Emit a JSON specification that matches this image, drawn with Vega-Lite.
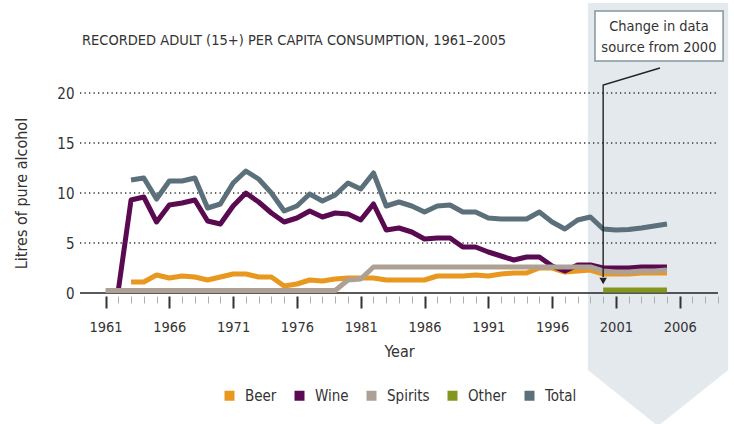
{
  "$schema": "https://vega.github.io/schema/vega-lite/v6.json",
  "autosize": "none",
  "width": 638,
  "height": 200,
  "padding": {"left": 80, "top": 93, "right": 16, "bottom": 131},
  "background": "white",
  "config": {
    "font": "DejaVu Sans Condensed, sans-serif",
    "view": {"stroke": null},
    "legend": {"layout": {"bottom": {"anchor": "middle"}}}
  },
  "title": {
    "text": "RECORDED ADULT (15+) PER CAPITA CONSUMPTION, 1961–2005",
    "anchor": "start",
    "frame": "group",
    "offset": -45,
    "dx": 2,
    "fontSize": 14.5,
    "fontWeight": "normal",
    "color": "#333333",
    "font": "DejaVu Sans Condensed, sans-serif"
  },
  "datasets": {
    "series": [
      {"year": 1963, "series": "Beer", "value": 1.1},
      {"year": 1964, "series": "Beer", "value": 1.1},
      {"year": 1965, "series": "Beer", "value": 1.8},
      {"year": 1966, "series": "Beer", "value": 1.5},
      {"year": 1967, "series": "Beer", "value": 1.7},
      {"year": 1968, "series": "Beer", "value": 1.6},
      {"year": 1969, "series": "Beer", "value": 1.3},
      {"year": 1970, "series": "Beer", "value": 1.6},
      {"year": 1971, "series": "Beer", "value": 1.9},
      {"year": 1972, "series": "Beer", "value": 1.9},
      {"year": 1973, "series": "Beer", "value": 1.6},
      {"year": 1974, "series": "Beer", "value": 1.6},
      {"year": 1975, "series": "Beer", "value": 0.7},
      {"year": 1976, "series": "Beer", "value": 0.9},
      {"year": 1977, "series": "Beer", "value": 1.3},
      {"year": 1978, "series": "Beer", "value": 1.2},
      {"year": 1979, "series": "Beer", "value": 1.4},
      {"year": 1980, "series": "Beer", "value": 1.5},
      {"year": 1981, "series": "Beer", "value": 1.5},
      {"year": 1982, "series": "Beer", "value": 1.5},
      {"year": 1983, "series": "Beer", "value": 1.3},
      {"year": 1984, "series": "Beer", "value": 1.3},
      {"year": 1985, "series": "Beer", "value": 1.3},
      {"year": 1986, "series": "Beer", "value": 1.3},
      {"year": 1987, "series": "Beer", "value": 1.7},
      {"year": 1988, "series": "Beer", "value": 1.7},
      {"year": 1989, "series": "Beer", "value": 1.7},
      {"year": 1990, "series": "Beer", "value": 1.8},
      {"year": 1991, "series": "Beer", "value": 1.7},
      {"year": 1992, "series": "Beer", "value": 1.9},
      {"year": 1993, "series": "Beer", "value": 2.0},
      {"year": 1994, "series": "Beer", "value": 2.0},
      {"year": 1995, "series": "Beer", "value": 2.5},
      {"year": 1996, "series": "Beer", "value": 2.5},
      {"year": 1997, "series": "Beer", "value": 2.1},
      {"year": 1998, "series": "Beer", "value": 2.2},
      {"year": 1999, "series": "Beer", "value": 2.3},
      {"year": 2000, "series": "Beer", "value": 1.9},
      {"year": 2001, "series": "Beer", "value": 1.9},
      {"year": 2002, "series": "Beer", "value": 1.9},
      {"year": 2003, "series": "Beer", "value": 2.0},
      {"year": 2004, "series": "Beer", "value": 2.0},
      {"year": 2005, "series": "Beer", "value": 2.0},
      {"year": 1962, "series": "Wine", "value": 0.25},
      {"year": 1963, "series": "Wine", "value": 9.3},
      {"year": 1964, "series": "Wine", "value": 9.6},
      {"year": 1965, "series": "Wine", "value": 7.1},
      {"year": 1966, "series": "Wine", "value": 8.8},
      {"year": 1967, "series": "Wine", "value": 9.0},
      {"year": 1968, "series": "Wine", "value": 9.3},
      {"year": 1969, "series": "Wine", "value": 7.2},
      {"year": 1970, "series": "Wine", "value": 6.9},
      {"year": 1971, "series": "Wine", "value": 8.7},
      {"year": 1972, "series": "Wine", "value": 10.0},
      {"year": 1973, "series": "Wine", "value": 9.1},
      {"year": 1974, "series": "Wine", "value": 8.0},
      {"year": 1975, "series": "Wine", "value": 7.1},
      {"year": 1976, "series": "Wine", "value": 7.5},
      {"year": 1977, "series": "Wine", "value": 8.2},
      {"year": 1978, "series": "Wine", "value": 7.6},
      {"year": 1979, "series": "Wine", "value": 8.0},
      {"year": 1980, "series": "Wine", "value": 7.9},
      {"year": 1981, "series": "Wine", "value": 7.3},
      {"year": 1982, "series": "Wine", "value": 8.9},
      {"year": 1983, "series": "Wine", "value": 6.3},
      {"year": 1984, "series": "Wine", "value": 6.5},
      {"year": 1985, "series": "Wine", "value": 6.1},
      {"year": 1986, "series": "Wine", "value": 5.4},
      {"year": 1987, "series": "Wine", "value": 5.5},
      {"year": 1988, "series": "Wine", "value": 5.5},
      {"year": 1989, "series": "Wine", "value": 4.6},
      {"year": 1990, "series": "Wine", "value": 4.6},
      {"year": 1991, "series": "Wine", "value": 4.1},
      {"year": 1992, "series": "Wine", "value": 3.7},
      {"year": 1993, "series": "Wine", "value": 3.3},
      {"year": 1994, "series": "Wine", "value": 3.6},
      {"year": 1995, "series": "Wine", "value": 3.6},
      {"year": 1996, "series": "Wine", "value": 2.7},
      {"year": 1997, "series": "Wine", "value": 2.2},
      {"year": 1998, "series": "Wine", "value": 2.8},
      {"year": 1999, "series": "Wine", "value": 2.8},
      {"year": 2000, "series": "Wine", "value": 2.5},
      {"year": 2001, "series": "Wine", "value": 2.5},
      {"year": 2002, "series": "Wine", "value": 2.5},
      {"year": 2003, "series": "Wine", "value": 2.6},
      {"year": 2004, "series": "Wine", "value": 2.6},
      {"year": 2005, "series": "Wine", "value": 2.6},
      {"year": 1961, "series": "Spirits", "value": 0.25},
      {"year": 1962, "series": "Spirits", "value": 0.25},
      {"year": 1963, "series": "Spirits", "value": 0.25},
      {"year": 1964, "series": "Spirits", "value": 0.25},
      {"year": 1965, "series": "Spirits", "value": 0.25},
      {"year": 1966, "series": "Spirits", "value": 0.25},
      {"year": 1967, "series": "Spirits", "value": 0.25},
      {"year": 1968, "series": "Spirits", "value": 0.25},
      {"year": 1969, "series": "Spirits", "value": 0.25},
      {"year": 1970, "series": "Spirits", "value": 0.25},
      {"year": 1971, "series": "Spirits", "value": 0.25},
      {"year": 1972, "series": "Spirits", "value": 0.25},
      {"year": 1973, "series": "Spirits", "value": 0.25},
      {"year": 1974, "series": "Spirits", "value": 0.25},
      {"year": 1975, "series": "Spirits", "value": 0.25},
      {"year": 1976, "series": "Spirits", "value": 0.25},
      {"year": 1977, "series": "Spirits", "value": 0.25},
      {"year": 1978, "series": "Spirits", "value": 0.25},
      {"year": 1979, "series": "Spirits", "value": 0.25},
      {"year": 1980, "series": "Spirits", "value": 1.3},
      {"year": 1981, "series": "Spirits", "value": 1.4},
      {"year": 1982, "series": "Spirits", "value": 2.6},
      {"year": 1983, "series": "Spirits", "value": 2.6},
      {"year": 1984, "series": "Spirits", "value": 2.6},
      {"year": 1985, "series": "Spirits", "value": 2.6},
      {"year": 1986, "series": "Spirits", "value": 2.6},
      {"year": 1987, "series": "Spirits", "value": 2.6},
      {"year": 1988, "series": "Spirits", "value": 2.6},
      {"year": 1989, "series": "Spirits", "value": 2.6},
      {"year": 1990, "series": "Spirits", "value": 2.6},
      {"year": 1991, "series": "Spirits", "value": 2.6},
      {"year": 1992, "series": "Spirits", "value": 2.6},
      {"year": 1993, "series": "Spirits", "value": 2.6},
      {"year": 1994, "series": "Spirits", "value": 2.6},
      {"year": 1995, "series": "Spirits", "value": 2.6},
      {"year": 1996, "series": "Spirits", "value": 2.6},
      {"year": 1997, "series": "Spirits", "value": 2.6},
      {"year": 1998, "series": "Spirits", "value": 2.6},
      {"year": 1999, "series": "Spirits", "value": 2.6},
      {"year": 2000, "series": "Spirits", "value": 2.2},
      {"year": 2001, "series": "Spirits", "value": 2.1},
      {"year": 2002, "series": "Spirits", "value": 2.1},
      {"year": 2003, "series": "Spirits", "value": 2.2},
      {"year": 2004, "series": "Spirits", "value": 2.2},
      {"year": 2005, "series": "Spirits", "value": 2.3},
      {"year": 2000, "series": "Other", "value": 0.3},
      {"year": 2001, "series": "Other", "value": 0.3},
      {"year": 2002, "series": "Other", "value": 0.3},
      {"year": 2003, "series": "Other", "value": 0.3},
      {"year": 2004, "series": "Other", "value": 0.3},
      {"year": 2005, "series": "Other", "value": 0.3},
      {"year": 1963, "series": "Total", "value": 11.3},
      {"year": 1964, "series": "Total", "value": 11.5},
      {"year": 1965, "series": "Total", "value": 9.4},
      {"year": 1966, "series": "Total", "value": 11.2},
      {"year": 1967, "series": "Total", "value": 11.2},
      {"year": 1968, "series": "Total", "value": 11.5},
      {"year": 1969, "series": "Total", "value": 8.5},
      {"year": 1970, "series": "Total", "value": 8.9},
      {"year": 1971, "series": "Total", "value": 11.0},
      {"year": 1972, "series": "Total", "value": 12.2},
      {"year": 1973, "series": "Total", "value": 11.4},
      {"year": 1974, "series": "Total", "value": 10.0},
      {"year": 1975, "series": "Total", "value": 8.2},
      {"year": 1976, "series": "Total", "value": 8.7},
      {"year": 1977, "series": "Total", "value": 9.9},
      {"year": 1978, "series": "Total", "value": 9.2},
      {"year": 1979, "series": "Total", "value": 9.8},
      {"year": 1980, "series": "Total", "value": 11.0},
      {"year": 1981, "series": "Total", "value": 10.4},
      {"year": 1982, "series": "Total", "value": 12.0},
      {"year": 1983, "series": "Total", "value": 8.7},
      {"year": 1984, "series": "Total", "value": 9.1},
      {"year": 1985, "series": "Total", "value": 8.7},
      {"year": 1986, "series": "Total", "value": 8.1},
      {"year": 1987, "series": "Total", "value": 8.7},
      {"year": 1988, "series": "Total", "value": 8.8},
      {"year": 1989, "series": "Total", "value": 8.1},
      {"year": 1990, "series": "Total", "value": 8.1},
      {"year": 1991, "series": "Total", "value": 7.5},
      {"year": 1992, "series": "Total", "value": 7.4},
      {"year": 1993, "series": "Total", "value": 7.4},
      {"year": 1994, "series": "Total", "value": 7.4},
      {"year": 1995, "series": "Total", "value": 8.1},
      {"year": 1996, "series": "Total", "value": 7.1},
      {"year": 1997, "series": "Total", "value": 6.4},
      {"year": 1998, "series": "Total", "value": 7.3},
      {"year": 1999, "series": "Total", "value": 7.6},
      {"year": 2000, "series": "Total", "value": 6.4},
      {"year": 2001, "series": "Total", "value": 6.3},
      {"year": 2002, "series": "Total", "value": 6.35},
      {"year": 2003, "series": "Total", "value": 6.5},
      {"year": 2004, "series": "Total", "value": 6.7},
      {"year": 2005, "series": "Total", "value": 6.9}
    ]
  },
  "encoding": {
    "x": {
      "field": "year", "type": "quantitative",
      "scale": {"domain": [1959, 2009], "nice": false, "zero": false},
      "axis": {
        "title": "Year",
        "values": [1961,1962,1963,1964,1965,1966,1967,1968,1969,1970,1971,1972,1973,1974,1975,1976,1977,1978,1979,1980,1981,1982,1983,1984,1985,1986,1987,1988,1989,1990,1991,1992,1993,1994,1995,1996,1997,1998,1999,2000,2001,2002,2003,2004,2005,2006,2007,2008,2009],
        "tickCount": 50,
        "format": "d",
        "labelExpr": "(datum.value - 1961) % 5 == 0 ? datum.label : ''",
        "domain": false,
        "offset": 3,
        "grid": false,
        "tickSize": {"condition": {"test": "(datum.value - 1961) % 5 == 0", "value": 12}, "value": 7},
        "tickColor": {"condition": {"test": "(datum.value - 1961) % 5 == 0", "value": "#333333"}, "value": "#b0b0b0"},
        "tickWidth": {"condition": {"test": "(datum.value - 1961) % 5 == 0", "value": 2}, "value": 1},
        "labelFontSize": 14.5,
        "labelColor": "#333333",
        "labelPadding": 12,
        "labelFlush": false,
        "labelOverlap": false,
        "titleFontSize": 16,
        "titleFontWeight": "normal",
        "titleColor": "#333333",
        "titlePadding": 10,
        "zindex": 1
      }
    },
    "y": {
      "field": "value", "type": "quantitative",
      "scale": {"domain": [0, 20], "nice": false},
      "axis": {
        "title": "Litres of pure alcohol",
        "values": [0, 5, 10, 15, 20],
        "domain": false,
        "ticks": false,
        "grid": false,
        "labelFontSize": 15,
        "labelColor": "#333333",
        "labelPadding": 6,
        "titleFontSize": 16,
        "titleFontWeight": "normal",
        "titleColor": "#333333",
        "titlePadding": 27
      }
    }
  },
  "layer": [
    {
      "data": {"values": [
        {"year": 1998.8, "value": 29.0, "bottom": -7.7},
        {"year": 2004.3, "value": 29.0, "bottom": -13.3},
        {"year": 2009.8, "value": 29.0, "bottom": -7.7}
      ]},
      "mark": {"type": "area", "color": "#e4e9ed", "clip": false},
      "encoding": {
        "y2": {"field": "bottom"}
      }
    },
    {
      "data": {"values": [
        {"year": 1959, "year2": 2009, "value": 5},
        {"year": 1959, "year2": 2009, "value": 10},
        {"year": 1959, "year2": 2009, "value": 15},
        {"year": 1959, "year2": 2009, "value": 20}
      ]},
      "mark": {"type": "rule", "color": "#333333", "strokeWidth": 1.3, "strokeDash": [1.3, 3.2]},
      "encoding": {
        "x2": {"field": "year2"}
      }
    },
    {
      "data": {"values": [{"year": 1959, "year2": 2009, "value": 0}]},
      "mark": {"type": "rule", "color": "#222222", "strokeWidth": 1.5},
      "encoding": {
        "x2": {"field": "year2"}
      }
    },
    {
      "data": {"name": "series"},
      "mark": {"type": "line", "strokeWidth": 5, "strokeJoin": "round", "strokeCap": "butt"},
      "encoding": {
        "color": {
          "field": "series", "type": "nominal",
          "scale": {"domain": ["Beer", "Wine", "Spirits", "Other", "Total"], "range": ["#e8981f", "#5a0a50", "#ada195", "#84961e", "#5b707b"]},
          "legend": {
            "title": null,
            "orient": "bottom",
            "direction": "horizontal",
            "symbolType": "square",
            "symbolSize": 100,
            "symbolStrokeWidth": 0,
            "labelFontSize": 15,
            "labelColor": "#333333",
            "labelOffset": 8,
            "columnPadding": 15,
            "offset": 28,
            "encode": {"symbols": {"update": {"fill": {"scale": "color", "field": "value"}, "strokeWidth": {"value": 0}}}}
          }
        },
        "order": {"field": "year", "type": "quantitative"}
      }
    },
    {
      "data": {"values": [
        {"year": 2004.45, "value": 22.5, "o": 1},
        {"year": 2000, "value": 20.8, "o": 2},
        {"year": 2000, "value": 1.6, "o": 3}
      ]},
      "mark": {"type": "line", "color": "#222222", "strokeWidth": 1.4, "clip": false},
      "encoding": {
        "order": {"field": "o", "type": "quantitative"}
      }
    },
    {
      "data": {"values": [{"year": 2000, "value": 1.2}]},
      "mark": {"type": "point", "shape": "triangle-down", "filled": true, "color": "#222222", "size": 55, "opacity": 1}
    },
    {
      "data": {"values": [{"year": 1999.36, "year2": 2009.4, "value": 28.2, "value2": 23.2}]},
      "mark": {"type": "rect", "fill": "white", "stroke": "#8596a0", "strokeWidth": 1.5, "clip": false},
      "encoding": {
        "x2": {"field": "year2"},
        "y2": {"field": "value2"}
      }
    },
    {
      "data": {"values": [
        {"year": 2004.37, "value": 26.65, "label": "Change in data"},
        {"year": 2004.37, "value": 24.55, "label": "source from 2000"}
      ]},
      "mark": {"type": "text", "fontSize": 14.5, "color": "#333333", "align": "center", "baseline": "middle", "clip": false},
      "encoding": {
        "text": {"field": "label"}
      }
    }
  ]
}
